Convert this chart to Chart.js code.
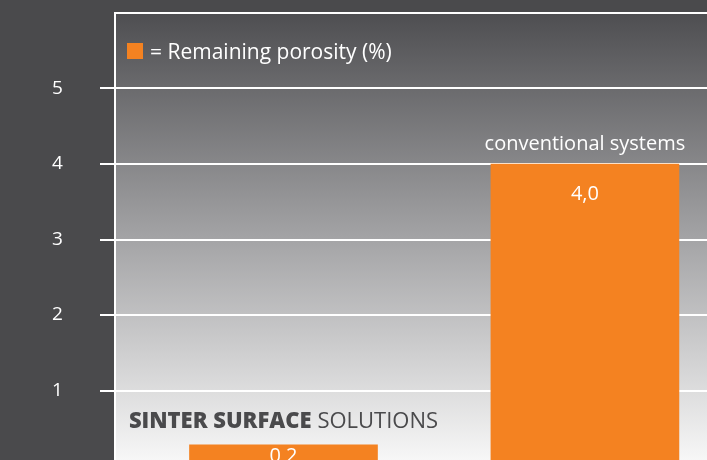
<!DOCTYPE html>
<html>
<head>
<meta charset="utf-8">
<script src="https://cdn.jsdelivr.net/npm/chart.js@4/dist/chart.umd.min.js"></script>
<style>
  html, body { margin: 0; padding: 0; overflow: hidden; background: #4a4a4c; }
  canvas { display: block; }
</style>
</head>
<body>
<canvas id="porosityChart" width="707" height="470"></canvas>
<script>
"use strict";

// Chart data
const categories = ['SINTER SURFACE SOLUTIONS', 'conventional systems'];
const porosity = [0.28, 4.0];
const valueLabels = ['0,2', '4,0'];
const yTicks = [0, 1, 2, 3, 4, 5, 6];
const legendText = '= Remaining porosity (%)';

const ORANGE = '#f48221';
const DARK = '#4a4a4c';
const FONT = '"Open Sans", Lato, sans-serif';

/**
 * Dark page background plus grey-to-white gradient in the plot area
 */
const backgroundPlugin = {
    id: 'background',
    beforeDraw(chart) {
        const { ctx, chartArea } = chart;
        ctx.save();
        ctx.fillStyle = DARK;
        ctx.fillRect(0, 0, chart.width, chart.height);
        const grad = ctx.createLinearGradient(0, chartArea.top, 0, chartArea.bottom);
        grad.addColorStop(0, '#4e4e51');
        grad.addColorStop(0.5, '#a4a4a6');
        grad.addColorStop(1, '#f9f9f9');
        ctx.fillStyle = grad;
        ctx.fillRect(chartArea.left, chartArea.top, chartArea.right - chartArea.left, chartArea.bottom - chartArea.top);
        ctx.restore();
    }
};

/**
 * Legend line, category names above the bars and values inside them
 */
const labelsPlugin = {
    id: 'barTexts',
    afterDatasetsDraw(chart, args, opts) {
        const { ctx, chartArea } = chart;
        const meta = chart.getDatasetMeta(0);
        ctx.save();

        // legend
        ctx.fillStyle = ORANGE;
        ctx.fillRect(chartArea.left + 12, chartArea.top + 30, 16, 16);
        ctx.fillStyle = '#ffffff';
        ctx.font = '21px ' + FONT;
        ctx.textAlign = 'left';
        ctx.textBaseline = 'alphabetic';
        ctx.fillText(legendText, chartArea.left + 35, chartArea.top + 46);

        meta.data.forEach((bar, i) => {
            const nameY = bar.y - opts.nameGap[i];
            // category name above the bar
            if (i === 0) {
                const parts = categories[i].split(' ');
                const boldPart = parts.slice(0, 2).join(' ');
                const restPart = ' ' + parts.slice(2).join(' ');
                ctx.font = '800 22px ' + FONT;
                const w1 = ctx.measureText(boldPart).width;
                ctx.font = '22px ' + FONT;
                const w2 = ctx.measureText(restPart).width;
                const x = bar.x - (w1 + w2) / 2;
                ctx.fillStyle = DARK;
                ctx.textAlign = 'left';
                ctx.font = '800 22px ' + FONT;
                ctx.fillText(boldPart, x, nameY);
                ctx.font = '22px ' + FONT;
                ctx.fillText(restPart, x + w1, nameY);
            } else {
                ctx.fillStyle = '#ffffff';
                ctx.textAlign = 'center';
                ctx.font = '20px ' + FONT;
                ctx.fillText(categories[i], bar.x, nameY);
            }

            // value inside the bar
            ctx.fillStyle = '#ffffff';
            ctx.textAlign = 'center';
            ctx.font = '20px ' + FONT;
            ctx.fillText(valueLabels[i], bar.x, bar.y + opts.valueOffset[i]);
        });
        ctx.restore();
    }
};

new Chart(document.getElementById('porosityChart'), {
    type: 'bar',
    data: {
        datasets: [{
            label: legendText,
            data: porosity.map((v, i) => ({ x: i, y: v })),
            backgroundColor: ORANGE,
            borderWidth: 0,
            barThickness: 188
        }]
    },
    plugins: [backgroundPlugin, labelsPlugin],
    options: {
        responsive: false,
        animation: false,
        layout: { padding: { top: 13, bottom: 4, left: 52, right: 0 } },
        plugins: {
            legend: { display: false },
            tooltip: { enabled: false },
            barTexts: { nameGap: [17, 14], valueOffset: [17, 36] }
        },
        scales: {
            x: {
                type: 'linear',
                min: -0.559,
                max: 1.405,
                offset: false,
                grid: { offset: false },
                display: false
            },
            y: {
                min: yTicks[0],
                max: yTicks[yTicks.length - 1],
                afterFit(scale) {
                    scale.width = 63;
                    scale.paddingTop = 0;
                    scale.paddingBottom = 0;
                },
                afterBuildTicks(scale) { scale.ticks = yTicks.map(v => ({ value: v })); },
                border: { color: '#ffffff', width: 2 },
                grid: {
                    color: '#ffffff',
                    lineWidth: 2,
                    tickLength: 15,
                    tickColor: ctx => (ctx.tick && ctx.tick.value === 6) ? 'rgba(0,0,0,0)' : '#ffffff'
                },
                ticks: {
                    color: '#ffffff',
                    padding: 0,
                    crossAlign: 'far',
                    font: { family: FONT, size: 19 },
                    callback: v => (v === 0 || v === 6) ? '' : String(v)
                }
            }
        }
    }
});
</script>
</body>
</html>
